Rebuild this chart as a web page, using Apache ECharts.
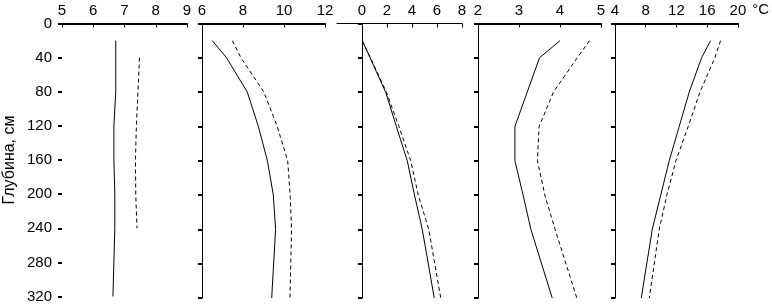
<!DOCTYPE html>
<html>
<head>
<meta charset="utf-8">
<script src="https://cdn.jsdelivr.net/npm/echarts@6/dist/echarts.min.js"></script>
<style>html,body{margin:0;padding:0;background:#fff}#c{width:772px;height:304px}</style>
</head>
<body>
<div id="c"></div>
<script>
// Depths (cm)
const depths = [20, 40, 80, 120, 160, 200, 240, 320];
const depthsShort = [40, 80, 120, 160, 200, 240];
const yTicks = [0, 40, 80, 120, 160, 200, 240, 280, 320];

// Panel 1 (x 5..9)
const p1Solid = [6.72, 6.72, 6.72, 6.66, 6.66, 6.69, 6.69, 6.63];
const p1Dashed = [7.48, 7.43, 7.38, 7.35, 7.36, 7.40];
// Panel 2 (x 6..12)
const p2Solid = [6.50, 7.20, 8.21, 8.75, 9.19, 9.48, 9.59, 9.40];
const p2Dashed = [7.48, 7.90, 9.02, 9.67, 10.18, 10.30, 10.37, 10.29];
// Panel 3 (x -2..8)
const p3Solid = [0.02, 0.65, 1.89, 2.75, 3.62, 4.20, 4.82, 5.78];
const p3Dashed = [0.02, 0.68, 1.95, 2.95, 3.90, 4.50, 5.34, 6.30];
// Panel 4 (x 2..5)
const p4Solid = [4.00, 3.50, 3.20, 2.90, 2.90, 3.10, 3.29, 3.81];
const p4Dashed = [4.72, 4.42, 3.84, 3.49, 3.45, 3.63, 3.88, 4.41];
// Panel 5 (x 4..20)
const p5Solid = [16.44, 15.27, 13.66, 12.36, 11.06, 9.95, 8.85, 7.42];
const p5Dashed = [17.74, 17.00, 15.05, 13.53, 11.93, 10.75, 9.76, 8.46];

const xRanges = [[5, 9, 1], [6, 12, 2], [-2, 8, 2], [2, 5, 1], [4, 20, 4]];
const yLabel = 'Глубина, см';
const unitLabel = '°C';

const FONT = "'Liberation Sans', Arial, sans-serif";
const lefts = [62, 202, 337, 478, 615];
const widths = [125, 123, 125, 123, 123];
const xLineWidths = [2, 2, 1, 2, 2];

const grids = lefts.map((l, i) => ({ left: l, width: widths[i], top: 23.5, height: 274.5 }));

const xAxes = xRanges.map((r, i) => ({
  type: 'value', gridIndex: i, position: 'top',
  min: r[0], max: r[1], interval: r[2],
  axisLine: { show: true, lineStyle: { color: '#000', width: xLineWidths[i] } },
  axisTick: { show: true, inside: true, length: 4, lineStyle: { color: '#000', width: 1 } },
  axisLabel: { color: '#000', fontSize: 15, fontFamily: FONT, margin: 5, showMinLabel: i !== 2 },
  splitLine: { show: false },
  name: i === 4 ? unitLabel : '',
  nameLocation: 'end', nameGap: 14,
  nameTextStyle: { color: '#000', fontSize: 15, fontFamily: FONT, verticalAlign: 'bottom', padding: [0, 0, 6, 0] }
}));

const yAxes = xRanges.map((r, i) => ({
  type: 'value', gridIndex: i, inverse: true,
  min: yTicks[0], max: yTicks[yTicks.length - 1], interval: yTicks[1] - yTicks[0],
  axisLine: { show: i !== 0, lineStyle: { color: '#000', width: 1 } },
  axisTick: { show: true, inside: false, length: 4, lineStyle: { color: '#000', width: 2 } },
  axisLabel: { show: i === 0, color: '#000', fontSize: 15, fontFamily: FONT, margin: 10 },
  splitLine: { show: false },
  name: i === 0 ? yLabel : '',
  nameLocation: 'middle', nameGap: 44, nameRotate: 90,
  nameTextStyle: { color: '#000', fontSize: 16, fontFamily: FONT }
}));

function mk(vals, ds, idx, dashed) {
  return {
    type: 'line', xAxisIndex: idx, yAxisIndex: idx,
    data: vals.map((v, k) => [v, ds[k]]),
    symbol: 'none', silent: true, animation: false,
    lineStyle: { color: '#000', width: 1, type: dashed ? [4, 3] : 'solid' }
  };
}

const series = [
  mk(p1Solid, depths, 0, false), mk(p1Dashed, depthsShort, 0, true),
  mk(p2Solid, depths, 1, false), mk(p2Dashed, depths, 1, true),
  mk(p3Solid, depths, 2, false), mk(p3Dashed, depths, 2, true),
  mk(p4Solid, depths, 3, false), mk(p4Dashed, depths, 3, true),
  mk(p5Solid, depths, 4, false), mk(p5Dashed, depths, 4, true)
];

const chart = echarts.init(document.getElementById('c'), null, { renderer: 'canvas' });
chart.setOption({
  backgroundColor: '#fff',
  animation: false,
  grid: grids, xAxis: xAxes, yAxis: yAxes, series: series
});
</script>
</body>
</html>
